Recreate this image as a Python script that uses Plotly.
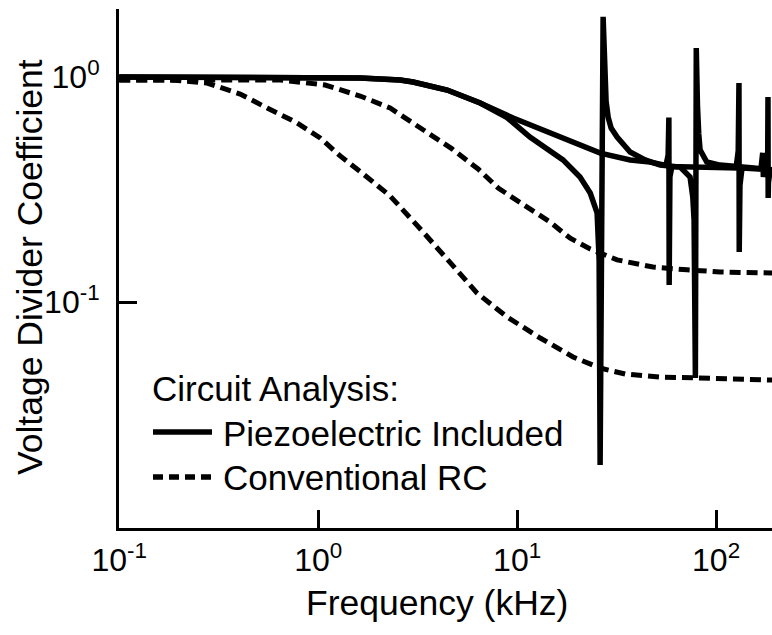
import plotly.graph_objects as go

# ---------------- data ----------------
# Frequency in kHz, voltage divider coefficient (dimensionless)

# Piezoelectric included - curve 1 (smooth roll-off with resonance spikes)
piezo1_freq = [0.1, 0.255, 1.0, 1.625, 2.58, 3.0, 4.45, 6.52, 9.55, 14.2, 20.7, 26.2,
               37.0, 46.5, 56.0, 57.4, 57.9, 58.1, 58.6, 60.0, 83.0, 126.0, 129.2, 130.3,
               130.7, 131.8, 135.0, 168.0, 171.5, 172.8, 176.0, 180.0, 181.8, 182.3,
               182.7, 183.3, 187.0, 195.0]
piezo1_val = [1.0, 1.0, 1.0, 0.99, 0.97, 0.95, 0.875, 0.766, 0.657, 0.569, 0.499, 0.459,
              0.428, 0.419, 0.405, 0.45, 0.66, 0.119, 0.36, 0.40, 0.398, 0.394, 0.47, 0.94,
              0.167, 0.33, 0.394, 0.39, 0.46, 0.36, 0.39, 0.388, 0.47, 0.815, 0.29, 0.34,
              0.388, 0.386]

# Piezoelectric included - curve 2 (anti-resonance dips followed by resonances)
piezo2_freq = [0.1, 0.255, 1.0, 1.625, 2.58, 3.0, 4.45, 6.52, 8.9, 11.6, 17.0, 20.7,
               23.3, 25.23, 25.83, 26.13, 27.05, 27.5, 28.0, 28.7, 29.68, 31.8, 36.97,
               43.98, 52.3, 66.0, 74.0, 76.35, 77.5, 78.7, 79.5, 80.6, 81.8, 83.1, 89.8,
               104.7, 150.0, 195.0]
piezo2_val = [1.0, 1.0, 1.0, 0.99, 0.97, 0.95, 0.875, 0.766, 0.66, 0.541, 0.428, 0.359,
              0.305, 0.249, 0.154, 0.0189, 1.85, 1.1, 0.78, 0.66, 0.593, 0.541, 0.464,
              0.428, 0.406, 0.398, 0.359, 0.293, 0.231, 0.046, 1.345, 0.75, 0.56, 0.474,
              0.419, 0.406, 0.395, 0.386]

# Conventional RC - upper curve
rc1_freq = [0.1, 0.644, 1.084, 1.625, 2.30, 3.37, 4.71, 6.37, 8.03, 10.6, 14.6, 18.5,
            23.3, 31.8, 48.2, 71.5, 104.7, 195.0]
rc1_val = [0.97, 0.97, 0.921, 0.823, 0.728, 0.581, 0.479, 0.390, 0.321, 0.273, 0.227,
           0.192, 0.172, 0.154, 0.143, 0.139, 0.136, 0.1345]

# Conventional RC - lower curve
rc2_freq = [0.1, 0.1804, 0.2767, 0.4055, 0.5543, 0.784, 1.023, 1.29, 1.683, 2.30, 3.33,
            4.61, 6.29, 8.91, 13.06, 19.1, 26.1, 34.9, 52.3, 79.2, 195.0]
rc2_val = [0.97, 0.97, 0.94, 0.84, 0.728, 0.625, 0.536, 0.446, 0.371, 0.296, 0.207,
           0.149, 0.1096, 0.0858, 0.0692, 0.057, 0.0509, 0.0479, 0.0464, 0.046, 0.045]

x_tickvals = [0.1, 1, 10, 100]
x_ticktext = ["10<sup>-1</sup>", "10<sup>0</sup>", "10<sup>1</sup>", "10<sup>2</sup>"]
y_tickvals = [0.1, 1]
y_ticktext = ["10<sup>-1</sup>", "10<sup>0</sup>"]

legend_title = "Circuit Analysis:"
name_piezo = "Piezoelectric Included"
name_rc = "Conventional RC"

# ---------------- figure ----------------
FONT = "Liberation Sans, Arial, Helvetica, sans-serif"
W, H = 772, 635
ML, MR, MT, MB = 119, 0, 9, 107
PW, PH = W - ML - MR, H - MT - MB


def px(x):
    return (x - ML) / PW


def py(y):
    return (H - MB - y) / PH


solid = dict(color="black", width=5.5)
dashed = dict(color="black", width=5, dash="11px,6px")

fig = go.Figure()
fig.add_trace(go.Scatter(x=rc1_freq, y=rc1_val, mode="lines", line=dashed,
                         name=name_rc, showlegend=False))
fig.add_trace(go.Scatter(x=rc2_freq, y=rc2_val, mode="lines", line=dashed,
                         name=name_rc, showlegend=False))
fig.add_trace(go.Scatter(x=piezo1_freq, y=piezo1_val, mode="lines", line=solid,
                         name=name_piezo, showlegend=False))
fig.add_trace(go.Scatter(x=piezo2_freq, y=piezo2_val, mode="lines", line=solid,
                         name=name_piezo, showlegend=False))

axis_common = dict(
    type="log", showgrid=False, zeroline=False, showline=True, linecolor="black",
    linewidth=3, ticks="inside", ticklen=18, tickwidth=2.5, tickcolor="black",
    tickfont=dict(family=FONT, size=32, color="black"), tickmode="array",
    automargin=False,
)

fig.update_layout(
    width=W, height=H,
    margin=dict(l=ML, r=MR, t=MT, b=MB, pad=0),
    paper_bgcolor="white", plot_bgcolor="white",
    font=dict(family=FONT, color="black"),
    showlegend=False,
    xaxis=dict(axis_common, range=[-1.001, 2.281], tickvals=x_tickvals,
               ticktext=x_ticktext, ticklabelstandoff=2),
    yaxis=dict(axis_common, range=[-2.004, 0.302], tickvals=y_tickvals,
               ticktext=y_ticktext, ticklabelstandoff=10),
)

# axis titles
TF = dict(family=FONT, size=35.5, color="black")
fig.add_annotation(text="Frequency (kHz)", xref="paper", yref="paper",
                   x=px(436.5), y=py(603), xanchor="center", yanchor="middle",
                   showarrow=False, font=TF)
fig.add_annotation(text="Voltage Divider Coefficient", xref="paper", yref="paper",
                   x=px(30), y=py(267), xanchor="center", yanchor="middle",
                   textangle=-90, showarrow=False, font=TF)

# legend block
LF = dict(family=FONT, size=35, color="black")
fig.add_annotation(text=legend_title, xref="paper", yref="paper", x=px(150), y=py(388),
                   xanchor="left", yanchor="middle", showarrow=False, font=LF)
fig.add_annotation(text=name_piezo, xref="paper", yref="paper", x=px(221), y=py(433),
                   xanchor="left", yanchor="middle", showarrow=False, font=LF)
fig.add_annotation(text=name_rc, xref="paper", yref="paper", x=px(221), y=py(477),
                   xanchor="left", yanchor="middle", showarrow=False, font=LF)
fig.add_shape(type="line", xref="paper", yref="paper", x0=px(153), x1=px(212),
              y0=py(432), y1=py(432), line=dict(color="black", width=5.5))
fig.add_shape(type="line", xref="paper", yref="paper", x0=px(153), x1=px(214),
              y0=py(477), y1=py(477), line=dict(color="black", width=5.5, dash="10px,6px"))

fig.write_html(
    "out.html",
    config={"displayModeBar": False},
    post_script="document.body.style.margin='0';document.body.style.overflow='hidden';",
)
